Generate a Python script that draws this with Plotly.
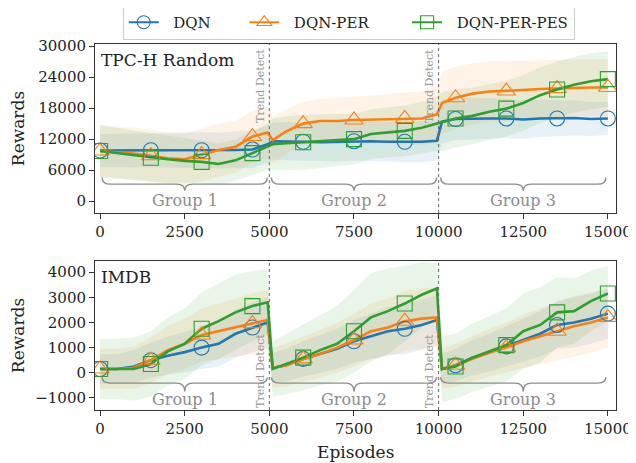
import numpy as np
import plotly.graph_objects as go

# ---------------- data ----------------
episodes = [0, 500, 1000, 1500, 2000, 2500, 3000, 3500, 4000, 4500, 4950,
            5100, 5500, 6000, 6500, 7000, 7500, 8000, 8500, 9000, 9500, 9950,
            10100, 10500, 11000, 11500, 12000, 12500, 13000, 13500, 14000, 14500, 15000]

series_names = ["DQN", "DQN-PER", "DQN-PER-PES"]

# TPC-H Random
tpch_dqn = [9800, 9800, 9800, 9850, 9850, 9850, 9850, 9800, 9900, 10000, 11000,
            11600, 11600, 11500, 11400, 11500, 11600, 11600, 11500, 11500, 11500, 11700,
            15400, 15900, 16000, 16000, 16000, 15800, 16000, 16000, 16100, 15900, 16000]
tpch_per = [9700, 9500, 9200, 8800, 8300, 8100, 9000, 9900, 10500, 12500, 13300,
            11800, 13500, 15000, 15500, 15500, 15700, 15800, 15900, 16000, 16000, 16800,
            19000, 20000, 20800, 21200, 21300, 21500, 21700, 21800, 22000, 22000, 22000]
tpch_pes = [9700, 9300, 8900, 8400, 8100, 7800, 7600, 7200, 7900, 9300, 10500,
            11000, 11200, 11400, 11600, 11800, 12000, 13000, 13300, 13600, 14200, 15000,
            15400, 16000, 16500, 17300, 17900, 19000, 20500, 21600, 22500, 23200, 23600]
tpch_dqn_std = [3200, 3200, 3300, 3300, 3400, 3400, 3500, 3500, 3600, 3600, 3600,
                3600, 3700, 3700, 3700, 3800, 3800, 3800, 3800, 3900, 3900, 3900,
                4200, 4100, 4000, 3900, 3800, 3700, 3600, 3500, 3400, 3300, 3200]
tpch_per_std = [5000, 5000, 5000, 5000, 5000, 5000, 5100, 5100, 5000, 5000, 5000,
                4500, 4300, 4200, 4300, 4400, 4500, 4600, 4800, 5000, 5200, 5500,
                6000, 6000, 5900, 5800, 5800, 5700, 5600, 5600, 5500, 5500, 5500]
tpch_pes_std = [5000, 4900, 4800, 4700, 4500, 4300, 4100, 4000, 4000, 4200, 4500,
                5000, 5200, 5300, 5200, 5000, 4900, 4800, 4800, 4900, 5000, 5200,
                5700, 5600, 5500, 5400, 5400, 5400, 5400, 5400, 5400, 5400, 5400]

# IMDB
imdb_dqn = [150, 150, 250, 500, 680, 820, 1000, 1150, 1550, 1800, 2000,
            200, 300, 550, 750, 950, 1250, 1450, 1650, 1750, 1900, 2100,
            150, 300, 600, 800, 1050, 1300, 1550, 1900, 2000, 2150, 2350]
imdb_per = [150, 150, 200, 500, 900, 1150, 1500, 1650, 1800, 1950, 2100,
            200, 300, 550, 750, 1000, 1300, 1650, 1800, 2050, 2150, 2200,
            150, 300, 550, 800, 1000, 1250, 1450, 1650, 1850, 2000, 2200]
imdb_pes = [150, 150, 150, 350, 850, 1150, 1750, 2050, 2400, 2650, 2800,
            150, 350, 600, 900, 1150, 1650, 2200, 2450, 2750, 3100, 3350,
            150, 250, 600, 850, 1100, 1650, 1900, 2400, 2450, 2850, 3150]
imdb_dqn_std = [600, 600, 650, 700, 750, 800, 850, 900, 950, 1000, 1000,
                600, 650, 700, 750, 800, 850, 900, 950, 1000, 1000, 1000,
                600, 650, 700, 750, 800, 850, 900, 950, 1000, 1000, 1000]
imdb_per_std = [800, 800, 850, 900, 950, 1000, 1050, 1100, 1150, 1200, 1200,
                800, 850, 900, 950, 1000, 1050, 1100, 1150, 1200, 1200, 1200,
                800, 850, 900, 950, 1000, 1050, 1100, 1150, 1200, 1200, 1200]
imdb_pes_std = [1200, 1200, 1250, 1300, 1350, 1400, 1450, 1500, 1500, 1400, 1300,
                1100, 1200, 1300, 1400, 1500, 1650, 1750, 1700, 1500, 1300, 1000,
                1300, 1300, 1350, 1400, 1450, 1500, 1500, 1400, 1300, 1200, 1100]

marker_episodes = [0, 1500, 3000, 4500, 6000, 7500, 9000, 10500, 12000, 13500, 15000]
group_edges = [0, 5000, 10000, 15000]
group_labels = ["Group 1", "Group 2", "Group 3"]
trend_points = [5000, 10000]

x_ticks = [0, 2500, 5000, 7500, 10000, 12500, 15000]
x_ticktext = ["0", "2500", "5000", "7500", "10000", "12500", "15000"]
tpch_yticks = [0, 6000, 12000, 18000, 24000, 30000]
tpch_yticktext = ["0", "6000", "12000", "18000", "24000", "30000"]
imdb_yticks = [-1000, 0, 1000, 2000, 3000, 4000]
imdb_yticktext = ["\u22121000", "0", "1000", "2000", "3000", "4000"]

# ---------------- style ----------------
colors = ["#1f77b4", "#ff7f0e", "#2ca02c"]
fills = ["rgba(31,119,180,0.10)", "rgba(255,127,14,0.10)", "rgba(44,160,44,0.10)"]
symbols = ["circle-open", "triangle-up-open", "square-open"]
FONT = "DejaVu Serif"
GRAY = "#8c8c8c"
NB = "\u00a0"
legend_pad_left = [2, 2, 2]
legend_pad_right = [6, 7, 0]

panels = [
    dict(xa="x", ya="y", means=[tpch_dqn, tpch_per, tpch_pes],
         stds=[tpch_dqn_std, tpch_per_std, tpch_pes_std], name="TPC-H Random",
         brace=(4600, 3300, 2000), label_y=150, trend_y=1, trend_anchor="top"),
    dict(xa="x2", ya="y2", means=[imdb_dqn, imdb_per, imdb_pes],
         stds=[imdb_dqn_std, imdb_per_std, imdb_pes_std], name="IMDB",
         brace=(-180, -410, -740), label_y=-1080, trend_y=0, trend_anchor="bottom"),
]

fig = go.Figure()
ep = np.array(episodes, dtype=float)

for p in panels:
    for i in range(3):
        m = np.array(p["means"][i], dtype=float)
        s = np.array(p["stds"][i], dtype=float)
        fig.add_trace(go.Scatter(x=ep, y=m + s, mode="lines", line=dict(width=0),
                                 xaxis=p["xa"], yaxis=p["ya"], showlegend=False,
                                 hoverinfo="skip"))
        fig.add_trace(go.Scatter(x=ep, y=m - s, mode="lines", line=dict(width=0),
                                 fill="tonexty", fillcolor=fills[i],
                                 xaxis=p["xa"], yaxis=p["ya"], showlegend=False,
                                 hoverinfo="skip"))
    for i in range(3):
        fig.add_trace(go.Scatter(x=ep, y=p["means"][i], mode="lines",
                                 line=dict(color=colors[i], width=2.6),
                                 xaxis=p["xa"], yaxis=p["ya"], showlegend=False))
    for i in range(3):
        my = np.interp(marker_episodes, ep, np.array(p["means"][i], dtype=float))
        fig.add_trace(go.Scatter(x=marker_episodes, y=my, mode="markers",
                                 marker=dict(symbol=symbols[i], size=16 if i == 1 else 15,
                                             color=colors[i], line=dict(width=1.1, color=colors[i])),
                                 xaxis=p["xa"], yaxis=p["ya"], showlegend=False))

for i in range(3):
    label = NB * legend_pad_left[i] + series_names[i] + NB * legend_pad_right[i]
    fig.add_trace(go.Scatter(x=[None], y=[None], mode="lines+markers", name=label,
                             line=dict(color=colors[i], width=2),
                             marker=dict(symbol=symbols[i], size=13, color=colors[i],
                                         line=dict(width=1.1, color=colors[i]))))

shapes = []
annotations = []
for p in panels:
    ytop, ymid, ytip = p["brace"]
    for t in trend_points:
        shapes.append(dict(type="line", xref=p["xa"], yref=p["ya"] + " domain",
                           x0=t, x1=t, y0=0, y1=1,
                           line=dict(color="#666666", width=1, dash="dot")))
        annotations.append(dict(xref=p["xa"], yref=p["ya"] + " domain", x=t, y=p["trend_y"],
                                text="Trend Detect", textangle=-90, showarrow=False,
                                xanchor="right", yanchor=p["trend_anchor"],
                                xshift=-1, yshift=-3 if p["trend_anchor"] == "top" else 0,
                                font=dict(family=FONT, size=11, color="#999999")))
    for g in range(3):
        a = group_edges[g] + 60
        b = group_edges[g + 1] - 60
        c = (group_edges[g] + group_edges[g + 1]) / 2
        w = 240
        path = (f"M {a},{ytop} Q {a},{ymid} {a + w},{ymid} L {c - w},{ymid} "
                f"Q {c},{ymid} {c},{ytip} Q {c},{ymid} {c + w},{ymid} "
                f"L {b - w},{ymid} Q {b},{ymid} {b},{ytop}")
        shapes.append(dict(type="path", xref=p["xa"], yref=p["ya"], path=path,
                           line=dict(color=GRAY, width=1.4)))
        annotations.append(dict(xref=p["xa"], yref=p["ya"], x=c, y=p["label_y"],
                                text=group_labels[g], showarrow=False,
                                xanchor="center", yanchor="middle",
                                font=dict(family=FONT, size=16, color=GRAY)))
    annotations.append(dict(xref=p["xa"] + " domain", yref=p["ya"] + " domain", x=0, y=1,
                            text=p["name"], showarrow=False, xanchor="left", yanchor="top",
                            xshift=4, yshift=-4, font=dict(family=FONT, size=17, color="#222222")))

# x-axis title placed as text below the lower panel
annotations.append(dict(xref="x2 domain", yref="y2 domain", x=0.5, y=0, text="Episodes",
                        showarrow=False, xanchor="center", yanchor="middle", yshift=-42,
                        font=dict(family=FONT, size=17, color="#222222")))

axis_common = dict(showline=True, linecolor="#333333", linewidth=1, mirror=True,
                   ticks="outside", ticklen=5, tickcolor="#333333", showgrid=False,
                   zeroline=False, automargin=False,
                   tickfont=dict(family=FONT, size=15, color="#222222"))

fig.update_layout(
    width=636, height=463,
    # page body adds an 8px offset; margins chosen so the plot area lands at the reference position
    margin=dict(l=87, r=28, t=36, b=61, autoexpand=False),
    plot_bgcolor="white", paper_bgcolor="white",
    font=dict(family=FONT, color="#222222"),
    showlegend=True,
    legend=dict(orientation="h", x=0.487, xanchor="center", y=1.011, yanchor="bottom",
                traceorder="normal",
                bgcolor="white", bordercolor="#cccccc", borderwidth=1,
                font=dict(family=FONT, size=15, color="#222222")),
    xaxis=dict(domain=[0, 1], anchor="y", range=[-150, 15240], tickvals=x_ticks,
               ticktext=x_ticktext, **axis_common),
    yaxis=dict(domain=[0.538, 1], anchor="x", range=[-2300, 30400], tickvals=tpch_yticks,
               ticktext=tpch_yticktext,
               title=dict(text="Rewards", font=dict(family=FONT, size=17)), **axis_common),
    xaxis2=dict(domain=[0, 1], anchor="y2", range=[-150, 15240], tickvals=x_ticks,
                ticktext=x_ticktext, **axis_common),
    yaxis2=dict(domain=[0, 0.407], anchor="x2", range=[-1480, 4440], tickvals=imdb_yticks,
                ticktext=imdb_yticktext,
                title=dict(text="Rewards", font=dict(family=FONT, size=17)), **axis_common),
    shapes=shapes,
    annotations=annotations,
)

fig.write_html("out.html")
